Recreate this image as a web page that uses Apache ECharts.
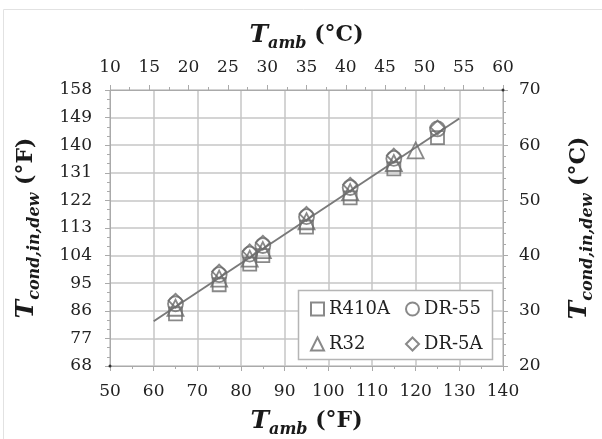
<!DOCTYPE html>
<html><head><meta charset="utf-8">
<script src="https://cdn.jsdelivr.net/npm/echarts@6/dist/echarts.min.js"></script>
<style>html,body{margin:0;padding:0;background:#fff}#c{width:602px;height:439px}</style>
</head><body><div id="c"></div>
<script>
// Data (°F)
const xF = [65, 75, 82, 85, 95, 105, 115, 125];
const xR32 = [65, 75, 82, 85, 95, 105, 115, 120];
const yR410A = [85.0, 94.5, 101.2, 104.0, 113.3, 122.8, 132.3, 142.5];
const yR32 = [87.0, 96.5, 103.0, 105.8, 115.2, 124.7, 134.2, 138.3];
const yDR55 = [88.3, 97.8, 104.5, 107.3, 116.7, 126.2, 135.7, 145.3];
const yDR5A = [89.3, 98.8, 105.4, 108.2, 117.6, 127.1, 136.6, 145.8];
const fitX = [60, 130];
const fitY = [82.6, 148.7];
const cornerX = [50, 140];
const cornerY = [68, 158];
const seriesNames = ['R410A', 'R32', 'DR-55', 'DR-5A'];

const FONT = 'DejaVu Serif';
const pair = (xs, ys) => xs.map((x, i) => [x, ys[i]]);
const mk = '#6c6c6c';
const nameRich = {
  t: {fontFamily: FONT, fontSize: 25, fontWeight: 'bold', fontStyle: 'italic', color: '#1a1a1a', lineHeight: 32},
  s: {fontFamily: FONT, fontSize: 16, fontWeight: 'bold', fontStyle: 'italic', color: '#1a1a1a', lineHeight: 34, verticalAlign: 'bottom'},
  u: {fontFamily: FONT, fontSize: 22, fontWeight: 'bold', color: '#1a1a1a', lineHeight: 32}
};
const axisCommon = {
  axisLine: {show: true, lineStyle: {color: '#aaa', width: 1}},
  axisTick: {show: true, length: 5, lineStyle: {color: '#aaa'}},
  minorTick: {show: true, length: 3, lineStyle: {color: '#aaa'}},
  axisLabel: {fontFamily: FONT, fontSize: 17, color: '#222'},
  nameLocation: 'middle',
  nameTextStyle: {rich: nameRich}
};
const grid = {color: '#c6c6c6', width: 1.5};

const sym = {R410A: 'rect', R32: 'triangle', 'DR-55': 'circle', 'DR-5A': 'diamond'};
const sizes = {R410A: 13, R32: 16, 'DR-55': 15, 'DR-5A': 14};
const dataMap = {
  R410A: pair(xF, yR410A), R32: pair(xR32, yR32),
  'DR-55': pair(xF, yDR55), 'DR-5A': pair(xF, yDR5A)
};

const chart = echarts.init(document.getElementById('c'));
chart.setOption({
  animation: false,
  grid: {left: 110, right: 99, top: 90, bottom: 73, containLabel: false, outerBoundsMode: 'none'},
  graphic: [
    {type: 'rect', shape: {x: 3.5, y: 9.5, width: 640, height: 460}, style: {fill: 'none', stroke: '#e2e2e2', lineWidth: 1}, z: -10},
    {type: 'rect', shape: {x: 298.5, y: 290.5, width: 194, height: 69}, style: {fill: '#fff', stroke: '#b5b5b5', lineWidth: 1.5}, z: 5}
  ],
  legend: [
    {data: ['R410A', 'R32'], orient: 'vertical', left: 305, top: 295, itemWidth: 13, itemHeight: 13, itemGap: 17,
     textStyle: {fontFamily: FONT, fontSize: 18, color: '#222'}, z: 10},
    {data: ['DR-55', 'DR-5A'], orient: 'vertical', left: 400, top: 295, itemWidth: 13, itemHeight: 13, itemGap: 17,
     textStyle: {fontFamily: FONT, fontSize: 18, color: '#222'}, z: 10}
  ],
  xAxis: [
    Object.assign({}, axisCommon, {
      type: 'value', position: 'bottom', min: 50, max: 140, interval: 10,
      minorSplitLine: {show: false}, minorTick: Object.assign({}, axisCommon.minorTick, {splitNumber: 2}),
      splitLine: {show: true, lineStyle: grid},
      axisLabel: Object.assign({}, axisCommon.axisLabel, {margin: 17}),
      name: '{t|T}{s|amb}{u| (°F)}', nameGap: 38
    }),
    Object.assign({}, axisCommon, {
      type: 'value', position: 'top', min: 10, max: 60, interval: 5,
      minorTick: Object.assign({}, axisCommon.minorTick, {splitNumber: 2}),
      splitLine: {show: false},
      axisLabel: Object.assign({}, axisCommon.axisLabel, {margin: 14}),
      name: '{t|T}{s|amb}{u| (°C)}', nameGap: 38
    })
  ],
  yAxis: [
    Object.assign({}, axisCommon, {
      type: 'value', position: 'left', min: 68, max: 158, interval: 9,
      minorTick: Object.assign({}, axisCommon.minorTick, {splitNumber: 3}),
      splitLine: {show: true, lineStyle: grid},
      axisLabel: Object.assign({}, axisCommon.axisLabel, {margin: 18}),
      name: '{t|T}{s|cond,in,dew}{u| (°F)}', nameGap: 67, nameRotate: 90
    }),
    Object.assign({}, axisCommon, {
      type: 'value', position: 'right', min: 20, max: 70, interval: 10,
      minorTick: Object.assign({}, axisCommon.minorTick, {splitNumber: 5}),
      splitLine: {show: false},
      axisLabel: Object.assign({}, axisCommon.axisLabel, {margin: 16}),
      name: '{t|T}{s|cond,in,dew}{u| (°C)}', nameGap: 59, nameRotate: 90
    })
  ],
  series: [
    {type: 'line', name: 'fit', data: pair(fitX, fitY), symbol: 'none', lineStyle: {color: '#7a7a7a', width: 2}, z: 1, silent: true},
    {type: 'scatter', name: 'corner', data: pair(cornerX, cornerY), symbolSize: 3, itemStyle: {color: '#111'}, z: 3}
  ].concat(seriesNames.map(n => ({
    type: 'scatter', name: n, data: dataMap[n], symbol: sym[n], symbolSize: sizes[n],
    itemStyle: {color: 'rgba(255,255,255,0)', borderColor: mk, borderWidth: 1.8}, z: 4
  })))
});
</script></body></html>
